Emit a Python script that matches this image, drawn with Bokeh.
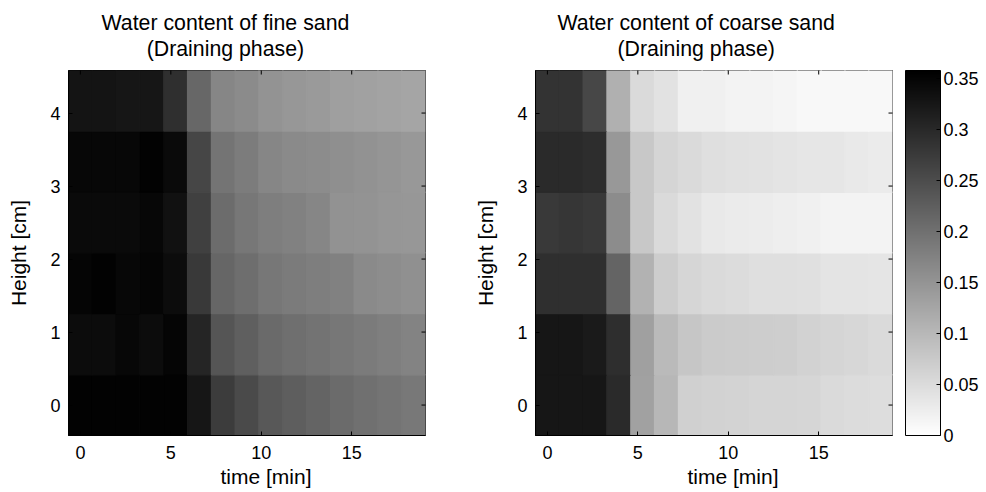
import math
from bokeh.plotting import figure
from bokeh.layouts import row
from bokeh.models import (LinearColorMapper, ColorBar, FixedTicker,
                          Title, Range1d, ColumnDataSource)
from bokeh.palettes import Greys256
from bokeh.transform import transform
from bokeh.embed import file_html
from bokeh.resources import INLINE

# ---------------- data ----------------
time_min = [0.0, 1.32, 2.63, 3.95, 5.27, 6.58, 7.90, 9.21, 10.53,
            11.85, 13.16, 14.48, 15.79, 17.11, 18.42]
height_cm = [0.0, 0.83, 1.67, 2.50, 3.33, 4.17]

# rows follow height_cm (bottom -> top), columns follow time_min
fine_sand = [
    [0.355, 0.355, 0.355, 0.355, 0.354, 0.326, 0.274, 0.254, 0.234, 0.226, 0.218, 0.208, 0.201, 0.195, 0.190],
    [0.341, 0.341, 0.347, 0.341, 0.350, 0.306, 0.239, 0.225, 0.209, 0.202, 0.197, 0.191, 0.185, 0.180, 0.174],
    [0.350, 0.355, 0.347, 0.351, 0.341, 0.277, 0.215, 0.204, 0.191, 0.185, 0.181, 0.177, 0.164, 0.160, 0.156],
    [0.344, 0.344, 0.344, 0.348, 0.334, 0.268, 0.206, 0.191, 0.181, 0.177, 0.170, 0.153, 0.152, 0.147, 0.146],
    [0.347, 0.347, 0.348, 0.355, 0.344, 0.260, 0.195, 0.184, 0.170, 0.164, 0.161, 0.157, 0.153, 0.149, 0.145],
    [0.330, 0.330, 0.326, 0.326, 0.292, 0.213, 0.170, 0.163, 0.152, 0.146, 0.142, 0.135, 0.132, 0.129, 0.126],
]
coarse_sand = [
    [0.327, 0.327, 0.327, 0.298, 0.132, 0.101, 0.066, 0.063, 0.062, 0.060, 0.059, 0.058, 0.052, 0.049, 0.048],
    [0.327, 0.327, 0.321, 0.293, 0.133, 0.097, 0.080, 0.074, 0.072, 0.070, 0.069, 0.063, 0.060, 0.056, 0.052],
    [0.291, 0.291, 0.292, 0.218, 0.108, 0.070, 0.058, 0.052, 0.049, 0.046, 0.045, 0.044, 0.039, 0.038, 0.037],
    [0.277, 0.282, 0.278, 0.161, 0.077, 0.052, 0.041, 0.032, 0.028, 0.027, 0.024, 0.021, 0.017, 0.017, 0.017],
    [0.298, 0.298, 0.295, 0.145, 0.077, 0.059, 0.052, 0.046, 0.042, 0.041, 0.038, 0.035, 0.035, 0.031, 0.029],
    [0.286, 0.286, 0.258, 0.111, 0.052, 0.041, 0.021, 0.021, 0.017, 0.017, 0.014, 0.011, 0.011, 0.011, 0.010],
]

x_ticks = [0, 5, 10, 15]
y_ticks = [0, 1, 2, 3, 4]
cbar_ticks = [0, 0.05, 0.1, 0.15, 0.2, 0.25, 0.3, 0.35]
color_low, color_high = 0.0, 0.358

titles = ["Water content of fine sand", "Water content of coarse sand"]
subtitle = "(Draining phase)"
x_label = "time [min]"
y_label = "Height [cm]"

# ---------------- styling ----------------
FONT = "Liberation Sans"
DX, DY = 1.316, 0.833
X_RANGE = (-0.658, 19.08)
Y_RANGE = (-0.417, 4.583)

mapper = LinearColorMapper(palette=list(reversed(Greys256)), low=color_low, high=color_high)


def style_axis(ax, ticks, standoff):
    ax.ticker = FixedTicker(ticks=ticks)
    ax.major_tick_in = 4
    ax.major_tick_out = 0
    ax.minor_tick_line_color = None
    ax.axis_line_color = "black"
    ax.major_tick_line_color = "black"
    ax.major_label_text_font = FONT
    ax.major_label_text_color = "black"
    ax.major_label_text_font_size = "18px"
    ax.major_label_standoff = standoff


def make_panel(values, title, min_left, min_right, off_title):
    t, h, v = [], [], []
    for j, hh in enumerate(height_cm):
        for i, tt in enumerate(time_min):
            t.append(tt)
            h.append(hh)
            v.append(values[j][i])
    src = ColumnDataSource(dict(t=t, h=h, v=v))
    p = figure(frame_width=357, frame_height=365,
               x_range=Range1d(*X_RANGE), y_range=Range1d(*Y_RANGE),
               min_border_left=min_left, min_border_right=min_right,
               min_border_top=70, min_border_bottom=56,
               output_backend="svg", toolbar_location=None, tools="")
    p.rect(x="t", y="h", width=DX, height=DY, source=src,
           fill_color=transform("v", mapper), line_color=transform("v", mapper),
           line_width=1.2)
    p.grid.visible = False
    p.outline_line_color = "black"
    p.outline_line_alpha = 1.0
    p.background_fill_color = "white"
    p.border_fill_color = "white"

    style_axis(p.xaxis[0], x_ticks, 10)
    style_axis(p.yaxis[0], y_ticks, 8)
    p.yaxis[0].axis_label = y_label
    p.yaxis[0].axis_label_text_font = FONT
    p.yaxis[0].axis_label_text_font_size = "21px"
    p.yaxis[0].axis_label_text_font_style = "normal"
    p.yaxis[0].axis_label_text_color = "black"
    p.yaxis[0].axis_label_standoff = 17

    # inward tick marks on the top and right edges of the box (MATLAB style)
    p.scatter(x=x_ticks, y=[Y_RANGE[1]] * len(x_ticks), marker="dash", size=8,
              angle=math.pi / 2, line_color="black", line_width=1)
    p.scatter(x=[X_RANGE[1]] * len(y_ticks), y=y_ticks, marker="dash", size=8,
              line_color="black", line_width=1)

    # two-line title: block anchored left (offset), lines centred inside it
    p.add_layout(Title(text=title + "\n" + subtitle, align="left", offset=off_title,
                       vertical_align="top", text_align="center", text_line_height=1.1,
                       text_font=FONT, text_font_size="21.3px", text_font_style="normal",
                       text_color="black", standoff=16), "above")
    p.add_layout(Title(text=x_label, align="left", offset=152, text_font=FONT,
                       text_font_size="21px", text_font_style="normal",
                       text_color="black", standoff=2), "below")
    return p


# page origin is (0, 0): frames at x 68..425 and 535..892, y 70..435
p1 = make_panel(fine_sand, titles[0], 68, 45, 33)
p2 = make_panel(coarse_sand, titles[1], 65, 93, 22)

cb = ColorBar(color_mapper=mapper, ticker=FixedTicker(ticks=cbar_ticks),
              width=35, padding=0, margin=0, location=(13, 0),
              bar_line_color="black", major_tick_line_color="black",
              major_tick_in=4, major_tick_out=0, minor_tick_line_color=None,
              label_standoff=3, major_label_text_font=FONT,
              major_label_text_font_size="18px", major_label_text_color="black",
              border_line_color=None, background_fill_color=None)
p2.add_layout(cb, "right")

layout = row(p1, p2)
open("out.html", "w").write(file_html(layout, INLINE))
